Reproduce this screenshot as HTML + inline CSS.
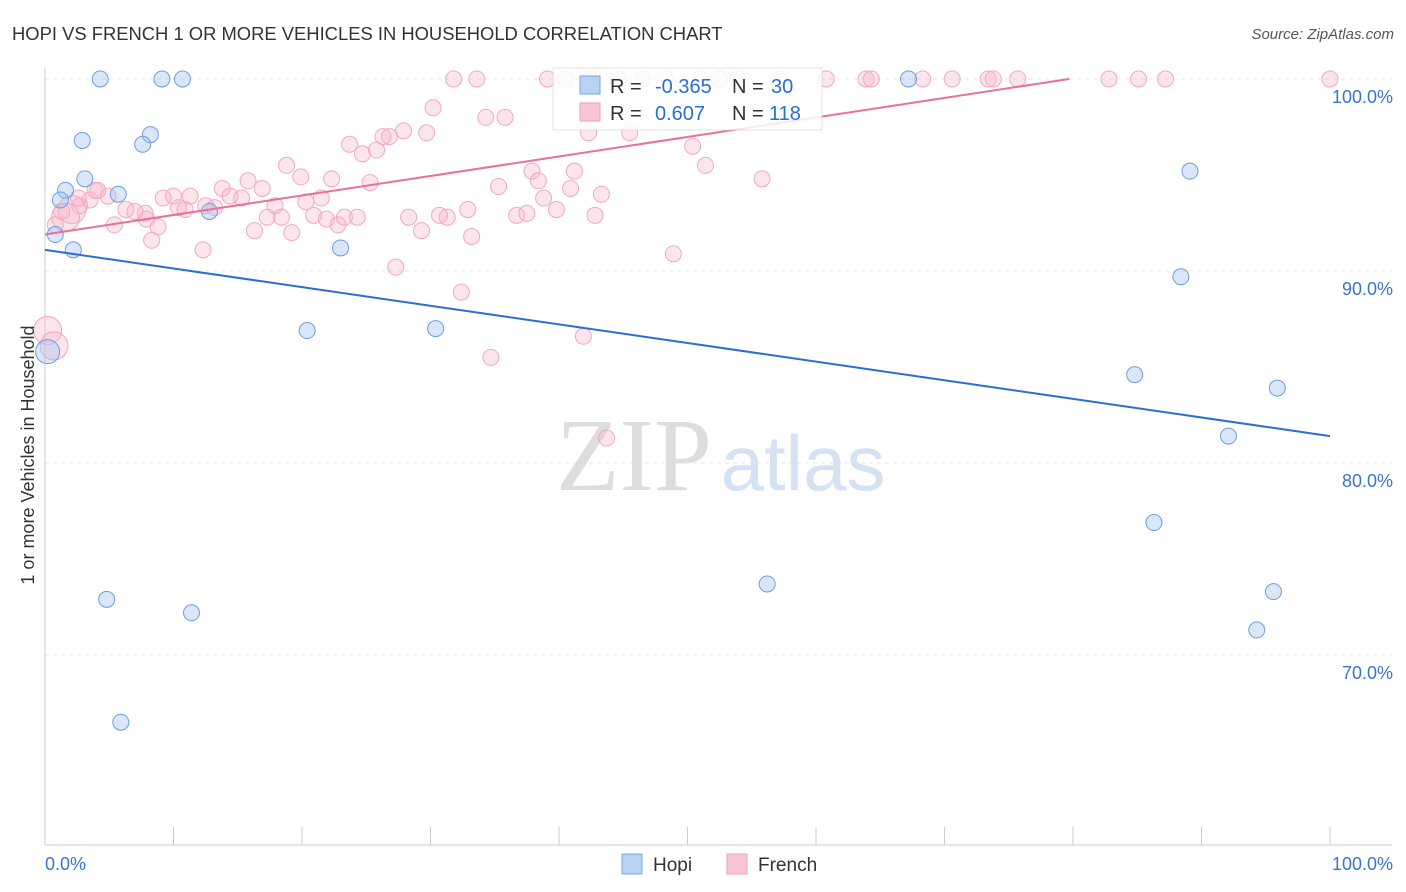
<!DOCTYPE html>
<html><head><meta charset="utf-8"><style>
body{margin:0;background:#fff;font-family:"Liberation Sans",sans-serif;}
svg{display:block}
</style></head><body>
<svg id="chart" width="1406" height="892">
<text x="12" y="40" font-size="18.4" fill="#333">HOPI VS FRENCH 1 OR MORE VEHICLES IN HOUSEHOLD CORRELATION CHART</text>
<text x="1394" y="39" font-size="15" fill="#555" font-style="italic" text-anchor="end">Source: ZipAtlas.com</text>
<g id="grid"></g>
<text x="634" y="490" font-size="104" fill="#ddd" font-family="Liberation Serif,serif" text-anchor="middle">ZIP</text>
<text x="803" y="490" font-size="78" fill="#d4e2f4" text-anchor="middle">atlas</text>
<g id="pts"></g>
<g id="lines"></g>
<text transform="translate(34,455) rotate(-90)" font-size="18" fill="#333" text-anchor="middle">1 or more Vehicles in Household</text>
<g>
<rect x="553" y="68" width="269" height="62" fill="#fff" stroke="#ddd" opacity="0.85"/>
<rect x="580" y="76" width="20" height="18" fill="#b8d2f4" stroke="#7aa6e0"/>
<rect x="580" y="103" width="20" height="18" fill="#f9c4d4" stroke="#f0a0b8"/>
<text y="93" font-size="20" fill="#333"><tspan x="610">R =</tspan><tspan x="655" fill="#2a6dd6">-0.365</tspan><tspan x="732">N =</tspan><tspan x="771" fill="#2a6dd6">30</tspan></text>
<text y="120" font-size="20" fill="#333"><tspan x="610">R =</tspan><tspan x="655" fill="#2a6dd6">0.607</tspan><tspan x="732">N =</tspan><tspan x="769" fill="#2a6dd6">118</tspan></text>
</g>
<g>
<rect x="622" y="854" width="20" height="20" fill="#b8d2f4" stroke="#7aa6e0"/>
<text x="653" y="871" font-size="19" fill="#333">Hopi</text>
<rect x="727" y="854" width="20" height="20" fill="#f9c4d4" stroke="#f0a0b8"/>
<text x="758" y="871" font-size="19" fill="#333">French</text>
</g>
</svg>
<script>
const hopiX=[4.3,9.1,10.7,67.2,2.9,8.2,7.6,3.1,1.6,1.2,5.7,0.8,2.2,12.8,23.0,20.4,30.4,89.1,88.4,84.8,95.9,92.1,86.3,56.2,95.6,94.3,4.8,11.4,5.9,0.2];
const hopiY=[100,100,100,100,96.8,97.1,96.6,94.8,94.2,93.7,94.0,91.9,91.1,93.1,91.2,86.9,87.0,95.2,89.7,84.6,83.9,81.4,76.9,73.7,73.3,71.3,72.9,72.2,66.5,85.8];
const frX=[31.8,33.6,39.1,40.5,42.4,44.6,46.5,48.3,51.0,52.5,53.9,57.1,60.8,63.9,64.3,68.3,70.6,73.4,73.8,75.7,82.8,85.1,87.2,100,
30.2,34.3,35.8,27.9,29.7,26.3,26.8,23.7,25.8,24.7,42.3,45.5,50.4,51.4,55.8,18.8,19.9,22.3,25.3,15.8,16.9,35.3,37.9,38.4,41.2,40.9,43.3,38.8,39.8,32.9,36.7,37.5,42.8,30.7,31.3,28.3,29.3,33.2,27.3,32.4,34.7,41.9,43.7,48.9,
13.8,15.3,14.4,12.5,13.2,11.3,10.0,9.2,10.4,10.9,7.8,6.3,7.0,5.4,8.8,8.3,7.9,16.3,17.9,17.3,19.2,18.4,20.3,21.5,20.9,21.9,22.8,23.3,24.3,12.3,4.9,3.9,3.5,2.7,2.1,1.6,0.8,0.2,0.7,1.3,2.6,4.1];
const frY=[100,100,100,100,100,100,100,100,100,100,100,100,100,100,100,100,100,100,100,100,100,100,100,100,
98.5,98.0,98.0,97.3,97.2,97.0,97.0,96.6,96.3,96.1,97.2,97.2,96.5,95.5,94.8,95.5,94.9,94.8,94.6,94.7,94.3,94.4,95.2,94.7,95.2,94.3,94.0,93.8,93.2,93.2,92.9,93.0,92.9,92.9,92.8,92.8,92.1,91.8,90.2,88.9,85.5,86.6,81.3,90.9,
94.3,93.8,93.9,93.4,93.3,93.9,93.9,93.8,93.3,93.2,93.0,93.2,93.1,92.4,92.3,91.6,92.7,92.1,93.4,92.8,92.0,92.8,93.6,93.8,92.9,92.7,92.4,92.8,92.8,91.1,93.9,94.2,93.7,93.4,93.2,92.8,92.4,86.9,86.1,93.1,93.8,94.2];
const bigFr=[0.2,0.7,1.6,2.1];
const yTicks=[100,90,80,70];
const yTickLabels=["100.0%","90.0%","80.0%","70.0%"];
const hopiLine=[91.1,81.4];
const frLine=[[0,91.9],[79.7,100]];
const X=v=>45+v*12.85, Y=v=>79+(100-v)*19.2;
const NS="http://www.w3.org/2000/svg";
function mk(t,a,p){const e=document.createElementNS(NS,t);for(const k in a)e.setAttribute(k,a[k]);p.appendChild(e);return e;}
const grid=document.getElementById('grid');
yTicks.forEach((t,i)=>{
 const l=mk('line',{x1:45,x2:1392,y1:Y(t),y2:Y(t),stroke:'#e4e4e4','stroke-dasharray':'4,4'},grid);
 
 
 const tx=mk('text',{x:1393,y:Y(t)+24,'font-size':18,fill:'#3a74d0','text-anchor':'end'},grid);tx.textContent=yTickLabels[i];
 
 
});
mk('line',{x1:45,x2:45,y1:68,y2:845,stroke:'#ccc'},grid);
mk('line',{x1:45,x2:1392,y1:845,y2:845,stroke:'#ccc'},grid);
for(let i=0;i<=10;i++){const tk=mk('line',{x1:X(i*10),x2:X(i*10),y1:827,y2:845,stroke:'#ccc'},grid);
 
 }
const x0=mk('text',{x:45,y:870,'font-size':18,fill:'#3a74d0'},grid);x0.textContent='0.0%';


const x1=mk('text',{x:1393,y:870,'font-size':18,fill:'#3a74d0','text-anchor':'end'},grid);x1.textContent='100.0%';


const pts=document.getElementById('pts');
frX.forEach((v,i)=>{const big=bigFr.includes(v)&&frY[i]<95;
 const c=mk('circle',{cx:X(v),cy:Y(frY[i]),r:big?14:8,fill:'rgba(248,180,200,0.35)',stroke:'#f2a8c0','stroke-width':1},pts);
 
 });
hopiX.forEach((v,i)=>{
 const c=mk('circle',{cx:X(v),cy:Y(hopiY[i]),r:v<0.5?12:8,fill:'rgba(160,196,240,0.4)',stroke:'#6c9ee0','stroke-width':1},pts);
 
 });
const lines=document.getElementById('lines');
const hl=mk('line',{x1:X(0),y1:Y(hopiLine[0]),x2:X(100),y2:Y(hopiLine[1]),stroke:'#2a6dd6','stroke-width':2},lines);


const fl=mk('line',{x1:X(frLine[0][0]),y1:Y(frLine[0][1]),x2:X(frLine[1][0]),y2:Y(frLine[1][1]),stroke:'#e8709a','stroke-width':2},lines);


</script>
</body></html>
